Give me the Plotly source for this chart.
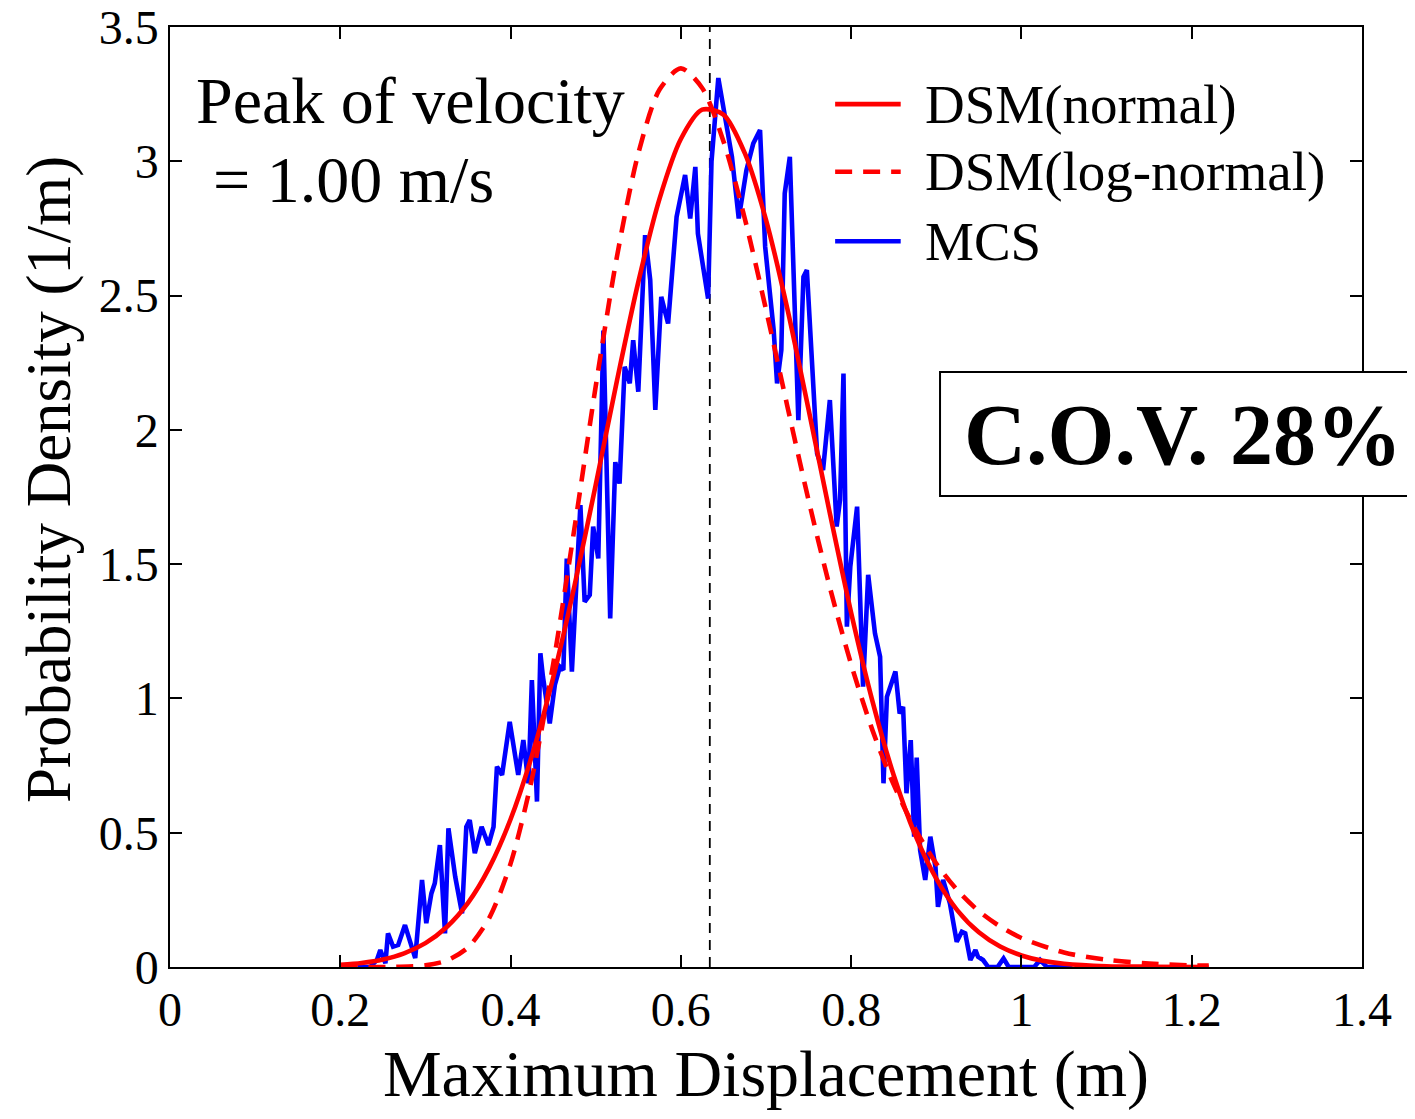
import plotly.graph_objects as go

# ---------------- data ----------------
normal_x = [0.200, 0.225, 0.250, 0.275, 0.300, 0.325, 0.350, 0.375, 0.400, 0.425,
            0.450, 0.475, 0.500, 0.525, 0.550, 0.575, 0.600, 0.625, 0.650, 0.675,
            0.700, 0.725, 0.750, 0.775, 0.800, 0.825, 0.850, 0.875, 0.900, 0.925,
            0.950, 0.975, 1.000, 1.025, 1.050, 1.100, 1.150, 1.220]
normal_y = [0.008, 0.015, 0.028, 0.051, 0.089, 0.149, 0.239, 0.370, 0.550, 0.786,
            1.077, 1.419, 1.795, 2.184, 2.550, 2.861, 3.083, 3.192, 3.174, 3.031,
            2.782, 2.452, 2.076, 1.689, 1.319, 0.990, 0.714, 0.494, 0.329, 0.210,
            0.129, 0.076, 0.043, 0.023, 0.012, 0.003, 0.001, 0.000]

lognorm_x = [0.200, 0.240, 0.260, 0.280, 0.300, 0.325, 0.350, 0.375, 0.400, 0.425,
             0.450, 0.475, 0.500, 0.525, 0.550, 0.575, 0.600, 0.625, 0.650, 0.675,
             0.700, 0.725, 0.750, 0.775, 0.800, 0.825, 0.850, 0.875, 0.900, 0.925,
             0.950, 0.975, 1.000, 1.050, 1.100, 1.150, 1.200, 1.220]
lognorm_y = [0.000, 0.000, 0.000, 0.002, 0.006, 0.024, 0.073, 0.183, 0.385, 0.700,
             1.127, 1.633, 2.162, 2.646, 3.029, 3.267, 3.346, 3.273, 3.075, 2.788,
             2.448, 2.089, 1.738, 1.414, 1.127, 0.882, 0.679, 0.515, 0.385, 0.285,
             0.208, 0.151, 0.108, 0.054, 0.027, 0.013, 0.006, 0.005]

mcs_x = [0.220, 0.235, 0.243, 0.247, 0.253, 0.256, 0.262, 0.268, 0.276, 0.282,
         0.288, 0.296, 0.301, 0.307, 0.311, 0.317, 0.323, 0.327, 0.335, 0.343,
         0.348, 0.352, 0.358, 0.366, 0.374, 0.380, 0.384, 0.390, 0.399, 0.409,
         0.415, 0.421, 0.425, 0.431, 0.435, 0.438, 0.446, 0.452, 0.458, 0.462,
         0.466, 0.472, 0.482, 0.487, 0.493, 0.497, 0.503, 0.509, 0.517, 0.523,
         0.528, 0.534, 0.540, 0.544, 0.550, 0.558, 0.564, 0.570, 0.577, 0.585,
         0.595, 0.605, 0.611, 0.617, 0.620, 0.632, 0.636, 0.644, 0.654, 0.660,
         0.668, 0.677, 0.685, 0.693, 0.699, 0.705, 0.709, 0.713, 0.718, 0.722,
         0.728, 0.738, 0.744, 0.748, 0.756, 0.760, 0.767, 0.775, 0.783, 0.787,
         0.791, 0.795, 0.799, 0.807, 0.814, 0.820, 0.828, 0.834, 0.838, 0.842,
         0.852, 0.857, 0.861, 0.865, 0.870, 0.874, 0.877, 0.881, 0.887, 0.893,
         0.899, 0.902, 0.908, 0.916, 0.924, 0.930, 0.934, 0.940, 0.946, 0.949,
         0.955, 0.961, 0.972, 0.979, 0.985, 1.015, 1.022, 1.030, 1.060]
mcs_y = [0.000, 0.000, 0.026, 0.063, 0.014, 0.125, 0.076, 0.082, 0.156, 0.100,
         0.033, 0.324, 0.163, 0.274, 0.312, 0.454, 0.125, 0.516, 0.336, 0.200,
         0.522, 0.547, 0.424, 0.522, 0.454, 0.522, 0.746, 0.715, 0.913, 0.715,
         0.845, 0.684, 1.068, 0.616, 1.168, 1.081, 0.907, 1.050, 1.118, 1.106,
         1.521, 1.100, 1.720, 1.360, 1.385, 1.640, 1.521, 2.370, 1.298, 1.880,
         1.800, 2.235, 2.173, 2.334, 2.142, 2.725, 2.558, 2.074, 2.495, 2.396,
         2.793, 2.949, 2.787, 2.979, 2.731, 2.489, 3.000, 3.310, 3.128, 3.017,
         2.787, 2.967, 3.066, 3.116, 2.682, 2.470, 2.372, 2.173, 2.297, 2.880,
         3.017, 2.036, 2.570, 2.595, 2.136, 1.912, 1.850, 2.111, 1.640, 1.740,
         2.210, 1.267, 1.490, 1.714, 1.044, 1.460, 1.242, 1.155, 0.684, 1.006,
         1.100, 0.944, 0.969, 0.647, 0.845, 0.485, 0.780, 0.436, 0.324, 0.485,
         0.373, 0.224, 0.324, 0.237, 0.094, 0.131, 0.125, 0.026, 0.063, 0.038,
         0.026, 0.000, 0.000, 0.032, 0.000, 0.000, 0.026, 0.000, 0.000]

mean_line_x = 0.634

x_ticks = [0, 0.2, 0.4, 0.6, 0.8, 1.0, 1.2, 1.4]
x_tick_labels = ["0", "0.2", "0.4", "0.6", "0.8", "1", "1.2", "1.4"]
y_ticks = [0, 0.5, 1.0, 1.5, 2.0, 2.5, 3.0, 3.5]
y_tick_labels = ["0", "0.5", "1", "1.5", "2", "2.5", "3", "3.5"]

series_names = ["DSM(normal)", "DSM(log-normal)", "MCS"]

# ---------------- figure ----------------
FONT = "Liberation Serif, Times New Roman, serif"
RED = "#FF0000"
BLUE = "#0000FF"
LW = 4.6
RED_DASH = "17px,11px"

fig = go.Figure()
fig.add_trace(go.Scatter(x=mcs_x, y=mcs_y, mode="lines", name=series_names[2],
                         line=dict(color=BLUE, width=LW), showlegend=False))
fig.add_trace(go.Scatter(x=normal_x, y=normal_y, mode="lines", name=series_names[0],
                         line=dict(color=RED, width=LW, shape="spline", smoothing=0.8),
                         showlegend=False))
fig.add_trace(go.Scatter(x=lognorm_x, y=lognorm_y, mode="lines", name=series_names[1],
                         line=dict(color=RED, width=LW, dash=RED_DASH, shape="spline",
                                   smoothing=0.8),
                         showlegend=False))

shapes = [
    dict(type="line", xref="x", yref="y", x0=mean_line_x, x1=mean_line_x, y0=0, y1=3.5,
         line=dict(color="black", width=1.8, dash="10px,7px"), layer="below"),
    # C.O.V. box
    dict(type="rect", xref="paper", yref="paper", x0=0.646, x1=1.041, y0=0.501, y1=0.633,
         line=dict(color="black", width=2), fillcolor="white"),
]

# custom legend
leg_rows = [0.918, 0.846, 0.772]
leg_styles = [dict(color=RED, width=LW), dict(color=RED, width=LW, dash=RED_DASH),
              dict(color=BLUE, width=LW)]
for yy, st in zip(leg_rows, leg_styles):
    shapes.append(dict(type="line", xref="paper", yref="paper", x0=0.558, x1=0.613,
                       y0=yy, y1=yy, line=st))

annotations = []
for yy, name in zip(leg_rows, series_names):
    annotations.append(dict(xref="paper", yref="paper", x=0.632, y=yy, text=name,
                            showarrow=False, xanchor="left", yanchor="middle",
                            font=dict(family=FONT, size=55, color="black")))

annotations += [
    dict(xref="paper", yref="paper", x=0.020, y=0.922, text="Peak of velocity",
         showarrow=False, xanchor="left", yanchor="middle",
         font=dict(family=FONT, size=66, color="black")),
    dict(xref="paper", yref="paper", x=0.034, y=0.838, text="= 1.00 m/s",
         showarrow=False, xanchor="left", yanchor="middle",
         font=dict(family=FONT, size=66, color="black")),
    dict(xref="paper", yref="paper", x=0.850, y=0.566, text="<b>C.O.V. 28%</b>",
         showarrow=False, xanchor="center", yanchor="middle",
         font=dict(family=FONT, size=86, color="black")),
    # y-axis title
    dict(xref="paper", yref="paper", x=-0.1015, y=0.518, text="Probability Density (1/m)",
         textangle=-90, showarrow=False, xanchor="center", yanchor="middle",
         font=dict(family=FONT, size=63, color="black")),
]

axis_common = dict(showline=True, linecolor="black", linewidth=1.5, mirror="ticks",
                   ticks="inside", ticklen=12, tickwidth=1.5, tickcolor="black",
                   showgrid=False, zeroline=False, ticklabeloverflow="allow",
                   tickfont=dict(family=FONT, size=48, color="black"))

# the page body adds an 8 px offset, so the figure is 8 px smaller and margins shifted
fig.update_layout(
    width=1407, height=1111,
    margin=dict(l=162, r=53, t=19, b=152),
    paper_bgcolor="white", plot_bgcolor="white",
    showlegend=False,
    xaxis=dict(range=[0, 1.4], tickvals=x_ticks, ticktext=x_tick_labels,
               title=dict(text="Maximum Displacement (m)", standoff=14,
                          font=dict(family=FONT, size=66, color="black")),
               automargin=False, **axis_common),
    yaxis=dict(range=[0, 3.5], tickvals=y_ticks, ticktext=y_tick_labels,
               automargin=False, **axis_common),
    shapes=shapes,
    annotations=annotations,
)

fig.write_html("out.html")
